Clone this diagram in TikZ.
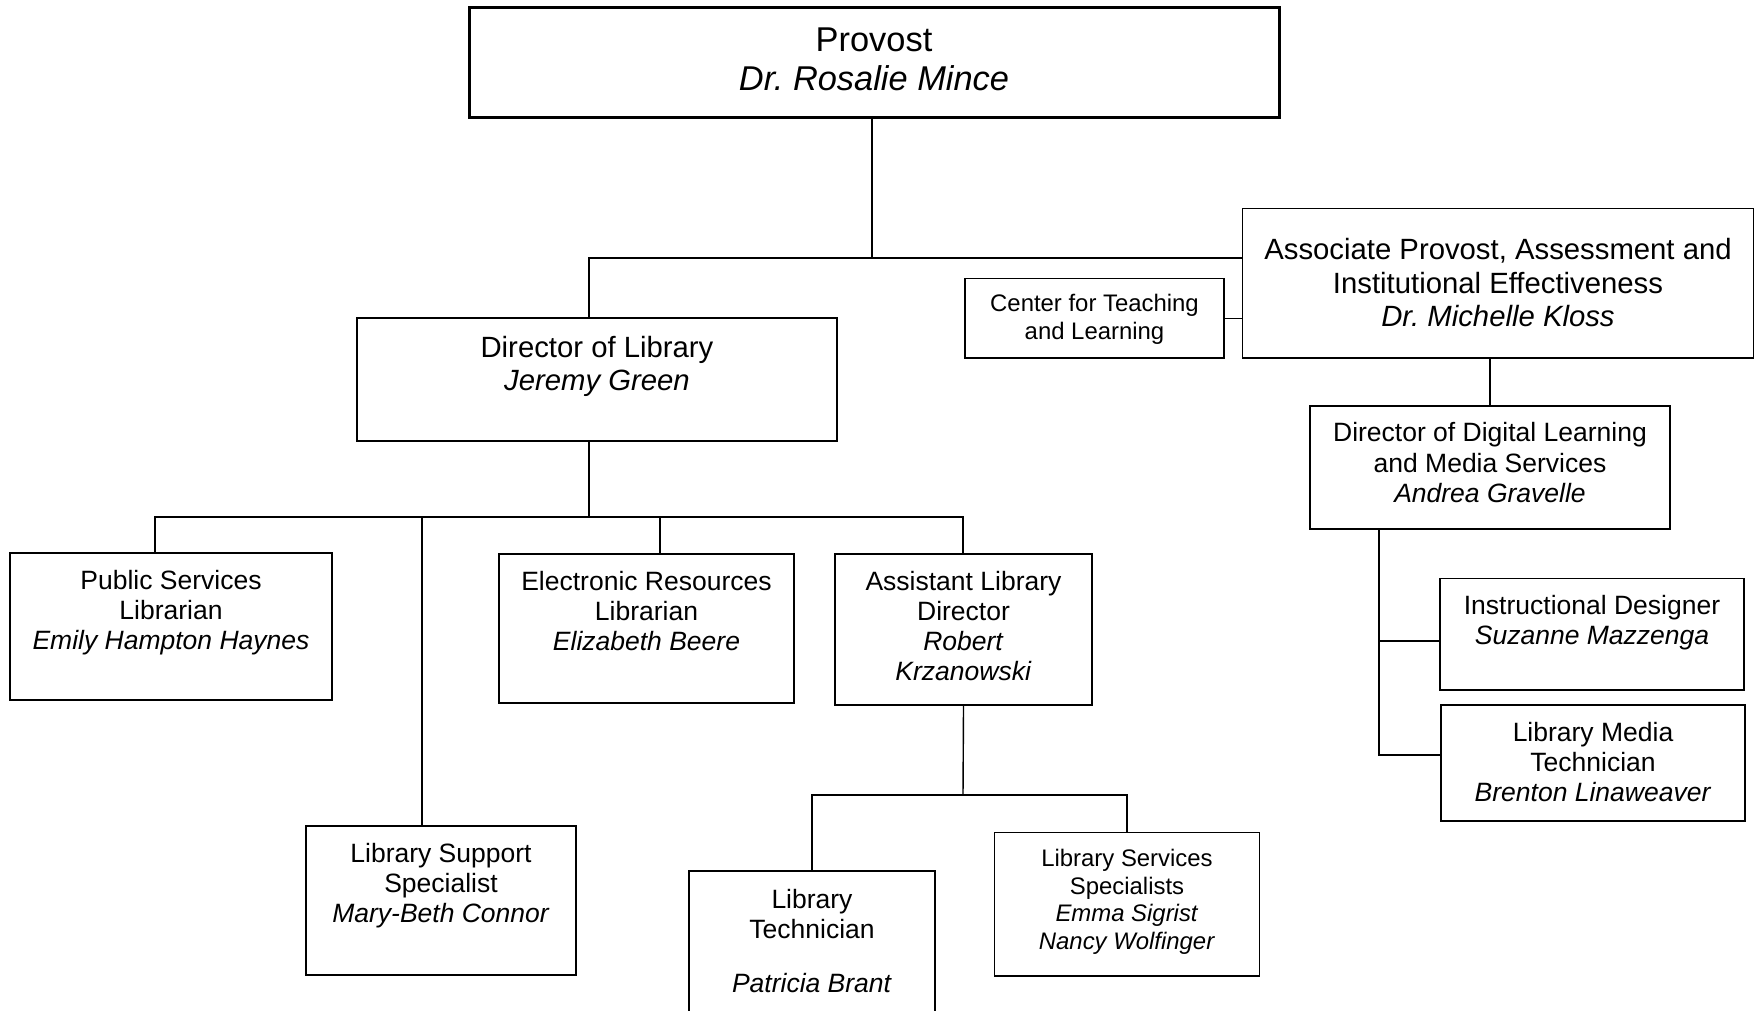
\documentclass[tikz,border=0pt]{standalone}
\usepackage{fontspec}
\setmainfont{Liberation Sans}
\usepackage{tikz}

% box text: width, height, first baseline, lines
\newcommand{\cardtext}[4]{\parbox[c][#2pt][t]{#1pt}{\centering\rule{0pt}{#3pt}#4}}

\begin{document}
\begin{tikzpicture}[x=1pt, y=-1pt,
    card/.style={draw, line width=1.6pt, inner sep=0pt},
    wire/.style={line width=1.4pt},
    bigtext/.style={font=\fontsize{34.4}{39}\selectfont},
    midtext/.style={font=\fontsize{29.3}{33.5}\selectfont},
    normtext/.style={font=\fontsize{26.5}{30.3}\selectfont},
    smalltext/.style={font=\fontsize{23.9}{27.5}\selectfont}]
        \useasboundingbox (0,0) rectangle (1755,1011);

        \node[card, bigtext, line width=3pt] (prov) at (874,63)
          {\cardtext{810}{110}{44}{Provost\\\textit{Dr.\ Rosalie Mince}}};
        \node[card, midtext] (assoc) at (1498,283.25)
          {\cardtext{511}{149.5}{51}{Associate Provost, Assessment and\\Institutional Effectiveness\\\textit{Dr.\ Michelle Kloss}}};
        \node[card, smalltext] (ctl) at (1094.5,318.25)
          {\cardtext{259}{79.5}{33}{Center for Teaching\\and Learning}};
        \node[card, midtext] (dol) at (597,379.5)
          {\cardtext{480}{123}{39}{Director of Library\\\textit{Jeremy Green}}};
        \node[card, normtext] (digital) at (1490,467.5)
          {\cardtext{360}{123}{35.7}{Director of Digital Learning\\and Media Services\\\textit{Andrea Gravelle}}};
        \node[card, normtext] (id) at (1592,634.25)
          {\cardtext{304}{111.5}{35.5}{Instructional Designer\\\textit{Suzanne Mazzenga}}};
        \node[card, normtext] (lmt) at (1593,763)
          {\cardtext{304}{116}{36}{Library Media\\Technician\\\textit{Brenton Linaweaver}}};

        \node[card, normtext] (psl) at (171,626.5)
          {\cardtext{322}{147}{36}{Public Services\\Librarian\\\textit{Emily Hampton Haynes}}};
        \node[card, normtext] (erl) at (646.5,628.5)
          {\cardtext{295}{149}{36}{Electronic Resources\\Librarian\\\textit{Elizabeth Beere}}};
        \node[card, normtext] (ald) at (963.5,629.5)
          {\cardtext{257}{151}{36}{Assistant Library\\Director\\\textit{Robert}\\\textit{Krzanowski}}};
        \node[card, normtext] (lsup) at (441,900.5)
          {\cardtext{270}{149}{36}{Library Support\\Specialist\\\textit{Mary-Beth Connor}}};
        \node[card, normtext] (lt) at (812,950.5)
          {\cardtext{246}{159}{37}{Library\\Technician\\[24pt]\textit{Patricia Brant}}};
        \node[card, smalltext] (lss) at (1127,904.25)
          {\cardtext{265}{143.5}{34}{Library Services\\Specialists\\\textit{Emma Sigrist}\\\textit{Nancy Wolfinger}}};

        % joints of the buses
        \coordinate (pjoin) at (872,258);
        \coordinate (ljoin) at (589,258);
        \coordinate (lbus) at (589,517);
        \coordinate (pslj) at (155,517);
        \coordinate (lsupj) at (422,517);
        \coordinate (erlj) at (660,517);
        \coordinate (aldj) at (963,517);
        \coordinate (subj) at (963,795);
        \coordinate (dstub) at (1379,641);
        \coordinate (dspine) at (1379,755);

        \draw[wire] (prov.south -| pjoin) -- (pjoin);
        \draw[wire] (dol.north -| ljoin) -- (ljoin) -- (assoc.west |- pjoin);
        \draw[wire] (ctl.east) -- (ctl.east -| assoc.west);
        \draw[wire] (assoc.south -| digital.north) -- (digital.north);
        \draw[wire] (digital.south -| dspine) -- (dspine) -- (dspine -| lmt.west);
        \draw[wire] (dstub) -- (dstub -| id.west);

        \draw[wire] (dol.south -| lbus) -- (lbus);
        \draw[wire] (pslj |- psl.north) -- (pslj) -- (aldj) -- (aldj |- ald.north);
        \draw[wire] (lsupj) -- (lsupj |- lsup.north);
        \draw[wire] (erlj) -- (erlj |- erl.north);

        \draw[wire] (ald.south) -- (subj);
        \draw[wire] (lt.north) |- (subj) -| (lss.north);
      \end{tikzpicture}
\end{document}
